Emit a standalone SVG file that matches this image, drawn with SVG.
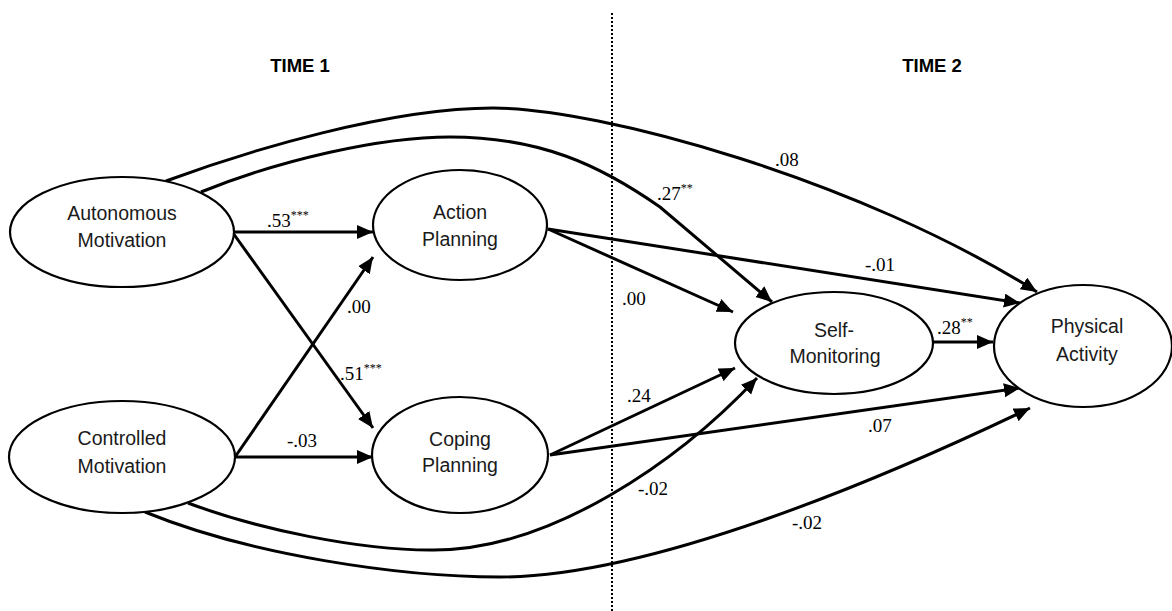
<svg xmlns="http://www.w3.org/2000/svg" width="1172" height="611" viewBox="0 0 1172 611">
<style>
.node ellipse{fill:#fff;stroke:#000;stroke-width:2.2}
.nt{font-family:"Liberation Sans",Arial,sans-serif;font-size:19.5px;fill:#1a1a1a;text-anchor:middle}
.time{font-family:"Liberation Sans",Arial,sans-serif;font-size:18.5px;font-weight:bold;fill:#000;text-anchor:middle}
.lbl{font-family:"Liberation Serif","Times New Roman",serif;font-size:19px;fill:#000}
.sup{font-size:12px}
#connectors path{fill:none;stroke:#000;stroke-width:3;marker-end:url(#arr)}
</style>
<defs>
<marker id="arr" markerUnits="userSpaceOnUse" markerWidth="18" markerHeight="16" refX="16" refY="7" orient="auto">
<path d="M0,0 L16,7 L0,14 z" fill="#000"/>
</marker>
</defs>
<rect width="1172" height="611" fill="#fff"/>
<line x1="612" y1="13" x2="612" y2="611" stroke="#000" stroke-width="2" stroke-dasharray="2 2"/>
<text class="time" x="300" y="72">TIME 1</text>
<text class="time" x="932" y="72">TIME 2</text>
<g id="connectors">
<path d="M166,181 C250,150 390,108 493,108 C600,108 860,180 1037,292"/>
<path d="M201,192 C280,160 380,137 450,137 C540,137 600,165 660,207 L772,302"/>
<path d="M188,503 C260,530 360,550 430,550 C550,552 680,460 757,378"/>
<path d="M145,512 C250,555 400,577 500,577 C650,577 880,480 1030,408"/>
<path d="M233,232 L373,232"/>
<path d="M233,233 L373,428"/>
<path d="M235,457 L373,257"/>
<path d="M235,457 L373,457"/>
<path d="M548,229 L733,312"/>
<path d="M548,229 L1020,303"/>
<path d="M550,455 L735,368"/>
<path d="M550,455 L1020,388"/>
<path d="M933,342 L993,342"/>
</g>
<g id="autonomous" class="node"><ellipse cx="122" cy="232" rx="112" ry="55"/><text class="nt" x="122" y="220">Autonomous</text><text class="nt" x="122" y="247">Motivation</text></g>
<g id="controlled" class="node"><ellipse cx="122" cy="457" rx="113" ry="56"/><text class="nt" x="122" y="445">Controlled</text><text class="nt" x="122" y="473">Motivation</text></g>
<g id="action" class="node"><ellipse cx="460" cy="225" rx="87" ry="55"/><text class="nt" x="460" y="219">Action</text><text class="nt" x="460" y="246">Planning</text></g>
<g id="coping" class="node"><ellipse cx="460" cy="455" rx="88" ry="58"/><text class="nt" x="460" y="446">Coping</text><text class="nt" x="460" y="472">Planning</text></g>
<g id="selfmon" class="node"><ellipse cx="834" cy="343" rx="99" ry="51"/><text class="nt" x="834" y="337">Self-</text><text class="nt" x="835" y="363">Monitoring</text></g>
<g id="physical" class="node"><ellipse cx="1083" cy="346" rx="89" ry="61"/><text class="nt" x="1087" y="333">Physical</text><text class="nt" x="1087" y="361">Activity</text></g>
<g id="labels">
<text class="lbl" x="267" y="227">.53<tspan class="sup" dy="-8">***</tspan></text>
<text class="lbl" x="340" y="380">.51<tspan class="sup" dy="-8">***</tspan></text>
<text class="lbl" x="347" y="313">.00</text>
<text class="lbl" x="287" y="447">-.03</text>
<text class="lbl" x="657" y="200">.27<tspan class="sup" dy="-8">**</tspan></text>
<text class="lbl" x="775" y="166">.08</text>
<text class="lbl" x="865" y="271">-.01</text>
<text class="lbl" x="622" y="305">.00</text>
<text class="lbl" x="627" y="402">.24</text>
<text class="lbl" x="937" y="334">.28<tspan class="sup" dy="-8">**</tspan></text>
<text class="lbl" x="868" y="432">.07</text>
<text class="lbl" x="638" y="495">-.02</text>
<text class="lbl" x="792" y="529">-.02</text>
</g>
</svg>
